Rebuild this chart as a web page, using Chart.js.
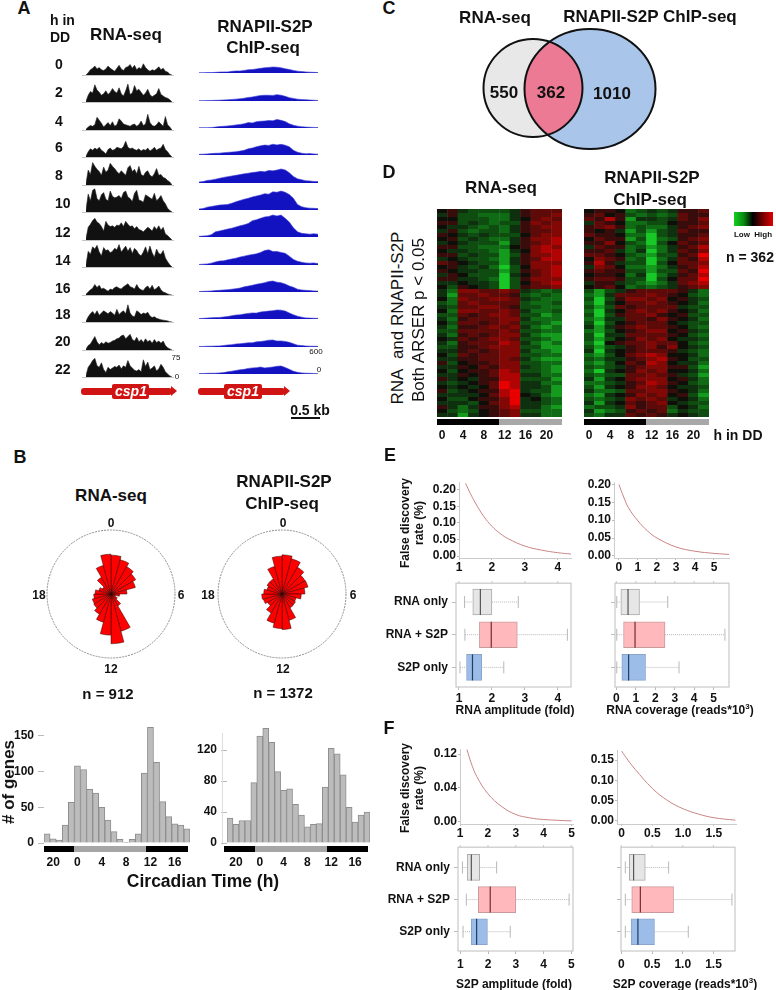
<!DOCTYPE html>
<html>
<head>
<meta charset="utf-8">
<title>csp1 RNA-seq and RNAPII-S2P ChIP-seq</title>
<script src="https://cdn.jsdelivr.net/npm/chart.js@4"></script>
<style>
  body { margin: 0; background: #fff; font-family: "Liberation Sans", Arial, sans-serif; }
  #page { position: relative; width: 776px; height: 990px; overflow: hidden; }
  canvas { position: absolute; }
  .t { position: absolute; white-space: nowrap; transform: translate(-50%, -50%); font-weight: bold; color: #111; }
  .b { position: absolute; }
</style>
</head>
<body>
<div id="page"></div>
<script>
// panel A, read counts per track
const rnaT0  = [0,6,14,18,24,16,20,14,12,16,24,18,14,10,18,26,16,12,20,22,28,18,26,14,20,16,30,20,14,10,14,12,16,22,14,18,10,8,2,0];
const rnaT2  = [2,18,28,24,46,32,26,18,22,30,20,26,36,28,24,38,22,16,30,48,20,24,44,30,34,26,18,24,34,20,14,18,22,36,20,16,12,10,6,0];
const rnaT4  = [2,8,12,10,14,34,26,18,8,14,20,12,22,10,14,30,24,16,14,12,10,14,16,10,14,24,12,16,42,20,12,10,14,22,16,10,36,14,8,0];
const rnaT6  = [2,14,22,18,24,20,26,18,14,8,20,24,18,20,26,24,22,28,42,26,22,24,20,18,22,16,20,18,24,16,20,26,18,22,24,34,20,14,6,0];
const rnaT8  = [4,40,28,60,50,42,36,26,48,34,40,58,50,44,36,30,38,32,26,46,52,36,42,30,50,28,24,34,38,26,22,30,44,26,28,20,18,12,8,0];
const rnaT10 = [6,48,30,58,62,36,30,46,52,34,30,56,42,38,40,44,36,52,56,40,36,28,50,58,32,30,26,46,42,38,34,50,30,36,44,30,22,10,4,0];
const rnaT12 = [4,34,42,52,58,48,44,36,24,50,40,36,38,34,40,38,46,36,50,42,36,38,30,36,28,26,22,28,34,30,24,36,28,38,26,34,16,12,6,0];
const rnaT14 = [6,42,34,54,48,58,40,30,52,44,46,38,42,50,46,60,40,48,56,42,52,36,50,44,34,30,40,54,36,56,38,26,48,36,34,44,24,14,6,0];
const rnaT16 = [2,8,14,18,28,20,26,16,18,14,10,16,14,20,22,18,16,22,26,30,22,20,16,28,18,14,12,20,24,16,26,14,18,24,14,8,6,3,1,0];
const rnaT18 = [2,14,22,28,20,30,18,24,30,26,22,28,24,18,34,20,26,30,22,46,24,16,14,30,26,20,24,22,26,16,12,14,10,8,6,5,4,3,1,0];
const rnaT20 = [2,12,16,26,36,22,14,20,16,22,18,20,24,26,30,32,38,40,30,36,42,28,24,34,22,28,20,30,22,26,18,28,20,24,18,24,12,6,3,0];
const rnaT22 = [4,26,34,44,50,30,26,38,20,12,26,20,24,28,26,32,22,30,26,44,30,24,18,16,20,14,46,28,40,20,24,30,16,22,34,26,14,8,3,0];
const rnaTracks = [rnaT0,rnaT2,rnaT4,rnaT6,rnaT8,rnaT10,rnaT12,rnaT14,rnaT16,rnaT18,rnaT20,rnaT22];

const chipT0  = [8,8,10,10,14,20,24,24,36,44,44,56,70,74,88,100,112,120,128,124,110,92,76,56,40,30,24,18,14,10];
const chipT2  = [8,8,10,12,14,18,22,26,34,40,48,60,76,86,104,118,124,122,120,136,124,100,72,56,40,30,28,22,16,12];
const chipT4  = [8,8,8,10,20,30,36,44,52,66,76,90,116,108,136,144,150,160,156,182,164,138,90,60,40,28,20,16,12,10];
const chipT6  = [14,18,24,30,36,40,50,56,62,70,84,100,134,150,178,196,212,206,230,216,228,210,176,100,60,40,26,30,22,18];
const chipT8  = [20,30,56,64,80,100,120,136,150,164,180,196,210,224,234,250,240,270,260,276,300,280,220,140,90,70,50,44,34,30];
const chipT10 = [20,30,60,76,90,106,110,120,144,176,204,230,250,280,300,320,350,340,390,380,406,380,330,250,120,70,50,40,36,30];
const chipT12 = [14,20,26,50,110,130,150,170,190,215,240,260,290,350,370,400,430,440,470,450,470,400,320,200,110,80,70,60,70,60];
const chipT14 = [12,18,24,40,66,84,90,110,130,146,170,190,210,224,240,270,310,325,290,290,270,250,190,120,80,60,44,40,44,30];
const chipT16 = [10,14,18,22,30,36,44,50,60,72,84,110,126,144,166,180,200,225,235,210,200,170,130,100,60,44,36,30,24,20];
const chipT18 = [10,14,20,26,30,34,44,54,70,84,90,106,120,130,126,150,160,170,178,193,190,170,130,90,60,40,24,20,16,14];
const chipT20 = [12,12,16,18,20,24,32,44,50,64,70,80,90,90,110,116,130,146,150,128,130,120,100,70,40,30,22,18,16,14];
const chipT22 = [10,12,14,16,18,24,30,46,60,76,90,100,120,130,136,150,130,140,150,166,172,140,100,60,36,24,18,14,12,8];
const chipTracks = [chipT0,chipT2,chipT4,chipT6,chipT8,chipT10,chipT12,chipT14,chipT16,chipT18,chipT20,chipT22];

const trackHours = ["0","2","4","6","8","10","12","14","16","18","20","22"];

// panel B, rose radii and histograms
const roseHours = Array.from({length: 24}, (_, i) => String(i));
const roseRna  = [117,107,95,86,76,48,26,14,22,41,116,150,124,88,70,60,58,52,48,38,30,58,89,120];
const roseChip = [118,110,93,80,81,69,58,44,47,48,82,107,104,91,66,50,58,61,55,47,52,52,86,114];
const histHours = ["19","20","21","22","23","0","1","2","3","4","5","6","7","8","9","10","11","12","13","14","15","16","17","18"];
const histRna  = [13,6,4,25,57,108,103,75,70,50,32,16,5,1,5,13,98,162,113,58,37,27,25,20];
const histChip = [32,24,29,29,78,138,148,130,92,68,70,50,36,21,24,25,72,122,115,88,46,27,36,40];
const histRnaTicks = [0,50,100,150];
const histChipTicks = [0,40,80,120];

// panel C
const vennCounts = ["550","362","1010"];

// panel D, expression level per row, low (green) to high (red)
const heatHours = ["0","2","4","6","8","10","12","14","16","18","20","22"];
const heatRna = [
[0,1,-1,-2,-2,-2,-2,-1,1,2,2,2],[-1,1,-2,-2,-3,-3,-3,-1,1,2,2,3],[0,0,-2,-2,-2,-3,-3,-1,0,2,3,2],[1,1,-2,-1,-2,-3,-2,-2,1,3,2,3],
[0,-1,-1,-2,-3,-2,-3,-1,1,2,3,3],[-1,1,-2,-3,-2,-2,-3,-1,1,2,2,3],[1,0,-1,-2,-1,-2,-2,-2,0,2,3,3],[0,1,-2,-1,-2,-3,-3,-1,1,3,3,4],
[-1,0,-1,-2,-2,-2,-4,-1,1,2,3,4],[1,1,-2,-2,-3,-3,-3,0,1,3,4,3],[0,-1,-1,-2,-2,-3,-4,-1,0,3,4,4],[1,1,-2,-1,-2,-2,-4,-2,1,3,3,4],
[-1,0,-1,-2,-2,-3,-4,-1,1,2,4,4],[2,1,0,-1,-2,-2,-4,-1,1,3,3,3],[0,1,-1,-2,-1,-3,-5,-2,0,3,3,4],[1,0,-1,-1,-2,-2,-4,-2,1,2,3,4],
[-1,1,0,-2,-2,-2,-5,-1,0,2,3,4],[1,1,-1,-1,-2,-3,-5,-2,1,3,3,3],[-1,-1,0,-1,-1,-2,-5,-2,0,2,3,4],[0,-2,1,0,-1,-2,-5,-2,1,2,2,3],
[-1,-3,3,3,2,2,3,2,-1,-2,-3,-2],[-1,-4,2,2,3,2,2,1,-2,-3,-2,-3],[0,-3,3,2,2,3,3,2,-1,-2,-3,-3],[-2,-3,2,3,2,2,2,2,-2,-3,-3,-2],
[-1,-2,2,2,3,3,2,1,-2,-2,-3,-3],[0,-3,3,3,2,2,3,2,-1,-3,-3,-2],[-2,-2,2,1,2,3,3,2,-2,-2,-4,-3],[-1,-3,1,2,2,2,3,3,-1,-3,-3,-3],
[0,-2,2,2,1,2,3,2,-2,-2,-3,-4],[-1,-3,1,1,2,3,2,3,-1,-3,-4,-3],[-2,-2,2,2,2,2,3,2,-2,-2,-3,-3],[-1,-3,1,2,1,2,3,3,-1,-3,-4,-4],
[0,-1,2,1,2,3,3,2,-2,-2,-3,-4],[-1,-3,1,2,2,2,4,3,-1,-3,-4,-3],[-2,-2,1,1,2,3,3,3,-2,-2,-4,-4],[-1,-1,1,2,1,2,3,3,-1,-3,-3,-4],
[0,-2,2,1,2,2,3,3,-2,-2,-3,-3],[-1,-1,1,1,2,2,3,2,-1,-3,-4,-4],[1,-2,0,1,1,2,3,3,-2,-2,-3,-3],[-1,-1,1,0,2,1,3,3,-1,-2,-3,-4],
[0,-2,0,1,1,2,4,3,-2,-2,-3,-4],[-1,-1,1,0,1,2,4,4,-1,-1,-3,-3],[1,-1,0,-1,1,1,4,4,-2,-2,-2,-4],[-1,-2,-1,0,1,2,5,4,-1,-1,-3,-3],
[0,-1,0,-1,0,2,5,4,-1,-1,-2,-4],[1,-2,-1,0,1,1,4,5,-1,-2,-2,-4],[-1,-1,-1,-1,0,2,4,5,0,-1,-3,-4],[0,-2,-2,0,1,1,3,5,-1,0,-2,-3],
[-1,-1,-1,-2,0,2,3,5,-1,-1,-2,-3],[1,-1,-3,-1,1,1,3,4,-1,-1,-3,-4],[0,-2,-3,-2,0,1,2,3,-2,-2,-3,-3],[-1,-1,-4,-1,0,1,2,3,-1,-1,-3,-3]
];
const heatChip = [
[0,1,1,0,-3,-2,-1,-2,-1,1,1,2],[1,2,0,1,-2,-3,-2,-3,-2,2,1,1],[2,1,4,1,-4,-1,-1,-2,-1,2,1,3],[-1,2,1,0,-3,-3,-2,-2,0,1,1,2],
[1,2,3,1,-3,-2,-3,-3,-1,1,2,3],[1,0,1,-1,-4,-2,-4,-2,-1,2,1,1],[2,1,1,0,-3,-3,-5,-2,-1,1,1,2],[0,2,1,1,-4,-2,-5,-3,-2,1,2,3],
[1,1,3,0,-2,-3,-5,-2,0,2,1,2],[-1,2,1,1,-3,-2,-4,-3,-1,1,2,4],[1,1,2,-1,-3,-1,-5,-3,-1,2,1,3],[2,2,1,0,-2,-3,-4,-2,-2,1,2,5],
[0,3,2,1,-3,-2,-5,-3,-1,2,1,4],[1,4,1,-1,-2,-2,-5,-2,0,2,2,3],[-1,3,2,0,-3,-3,-4,-3,-1,1,2,4],[1,2,1,1,-2,-2,-4,-2,-2,2,1,5],
[0,1,1,0,-3,-1,-5,-3,-1,1,2,4],[1,2,2,1,-2,-2,-5,-2,0,2,2,5],[-1,1,1,-1,-2,-3,-4,-3,-1,2,3,4],[0,1,2,0,-3,-2,-3,-2,-1,1,2,3],
[-2,-4,-2,-1,1,2,2,2,2,1,-1,-3],[-3,-4,-1,2,2,2,3,2,1,0,-2,-3],[-2,-5,-2,1,3,3,2,3,0,1,-1,-2],[-3,-5,-1,0,2,2,3,2,1,0,-1,-3],
[-2,-4,-2,2,1,2,2,2,2,-1,-2,-2],[-3,-5,-1,0,2,3,2,3,1,0,-1,-3],[-2,-5,-2,1,2,2,3,1,0,1,-2,-2],[-3,-4,-1,-1,2,2,1,3,1,0,-1,-3],
[-2,-5,-2,0,1,2,2,2,0,-1,-2,-2],[-1,-4,-1,1,2,3,2,2,1,0,-2,-3],[-3,-4,-2,0,1,2,3,3,0,1,-1,-2],[-2,-5,-1,-1,2,2,2,2,1,0,-2,-3],
[-2,-4,-2,0,1,3,2,3,0,-1,-1,-2],[-3,-5,0,1,2,2,3,2,2,0,-2,-3],[-2,-4,-2,-1,1,2,3,1,3,0,-1,-2],[-1,-5,-1,0,1,2,2,2,1,-1,-2,-3],
[-3,-4,-2,0,2,3,4,3,0,0,-1,-3],[-2,-3,-1,-1,1,2,3,4,1,0,-2,-2],[-3,-4,-2,0,2,1,4,3,0,-1,-1,-3],[-2,-3,-2,-1,1,2,3,3,1,1,-2,-4],
[-3,-5,-1,0,1,3,2,3,0,0,-1,-3],[-2,-3,-2,-2,2,2,3,2,1,-1,-2,-4],[-1,-4,-1,0,2,3,3,3,0,1,-1,-3],[-3,-3,-2,-1,1,2,4,3,1,0,-2,-3],
[-2,-4,-1,0,1,3,3,2,0,-1,-1,-2],[-1,-3,-3,-2,2,2,3,3,1,0,-1,-3],[-3,-4,-1,0,1,3,2,3,0,1,-2,-4],[-2,-3,-2,-1,3,2,3,2,-1,0,-1,-3],
[-1,-4,-1,0,2,1,2,3,0,-1,-2,-2],[-3,-2,-2,-1,3,1,2,2,-2,0,-1,-3],[-1,-4,-3,-2,1,2,1,2,-3,-1,-2,-2],[-2,-3,-1,-1,2,1,2,1,-1,0,-1,-2]
];

// panels E and F, false discovery curves
const fdrAmpX = [1.2,1.35,1.5,1.75,2,2.25,2.5,3,3.5,4,4.4];
const fdrAmpY = [0.22,0.188,0.16,0.12,0.09,0.068,0.052,0.03,0.018,0.01,0.006];
const fdrCovX = [0,0.25,0.5,1,1.5,2,3,4,5,5.8];
const fdrCovY = [0.2,0.165,0.135,0.098,0.07,0.05,0.025,0.013,0.007,0.004];
const fdrS2pAmpX = [1.25,1.4,1.6,2,2.5,3,3.5,4,5];
const fdrS2pAmpY = [0.128,0.104,0.08,0.049,0.026,0.012,0.006,0.003,0.0005];
const fdrS2pCovX = [0,0.1,0.22,0.5,0.75,1,1.25,1.5,1.85];
const fdrS2pCovY = [0.172,0.15,0.127,0.08,0.05,0.03,0.017,0.008,0.002];

// boxplots, rows are RNA only, RNA + S2P, S2P only
const boxNames = ["RNA only","RNA + S2P","S2P only"];
const ampLo = [1.17,1.18,1.03], ampQ1 = [1.42,1.62,1.23], ampMed = [1.65,1.98,1.41], ampQ3 = [2.0,2.77,1.69], ampHi = [2.8,4.29,2.36];
const covLo = [0.02,0.02,0.02], covQ1 = [0.23,0.37,0.28], covMed = [0.6,0.96,0.63], covQ3 = [1.19,2.5,1.5], covHi = [2.64,5.58,3.22];
const s2pAmpLo = [1.08,1.22,1.1], s2pAmpQ1 = [1.25,1.65,1.4], s2pAmpMed = [1.4,2.08,1.59], s2pAmpQ3 = [1.7,3.0,1.98], s2pAmpHi = [2.31,4.92,2.8];
const s2pCovLo = [0.065,0.065,0.065], s2pCovQ1 = [0.13,0.17,0.16], s2pCovMed = [0.2,0.31,0.27], s2pCovQ3 = [0.39,0.85,0.54], s2pCovHi = [0.77,1.8,1.09];

const boxFill = ["#e6e6e6","#ffb9bc","#9cbde8"];
const boxEdge = ["#aaaaaa","#c99a9c","#8aa5cc"];
const boxMid  = ["#555","#7a2a30","#1f3f66"];

const page = document.getElementById("page");
const tickFont = { family: "Liberation Sans", size: 12, weight: "bold" };
Chart.defaults.animation = false;
Chart.defaults.responsive = false;
Chart.defaults.devicePixelRatio = 1;
Chart.defaults.events = [];
Chart.defaults.font.family = "Liberation Sans";
Chart.defaults.plugins.legend.display = false;
Chart.defaults.plugins.tooltip.enabled = false;

function addChart(x, y, w, h, cfg) {
  const c = document.createElement("canvas");
  c.width = w; c.height = h;
  c.style.left = x + "px"; c.style.top = y + "px";
  page.appendChild(c);
  return new Chart(c, cfg);
}
function text(s, x, y, size, extra) {
  const d = document.createElement("div");
  d.className = "t";
  d.innerHTML = s;
  d.style.left = x + "px"; d.style.top = y + "px"; d.style.fontSize = size + "px";
  if (extra) Object.assign(d.style, extra);
  page.appendChild(d);
}
function rect(x, y, w, h, color, extra) {
  const d = document.createElement("div");
  d.className = "b";
  Object.assign(d.style, { left: x + "px", top: y + "px", width: w + "px", height: h + "px", background: color });
  if (extra) Object.assign(d.style, extra);
  page.appendChild(d);
}
const upright = { transform: "translate(-50%,-50%) rotate(-90deg)" };

// ---- A
const rnaBase  = [75,102,130,157,185,212,240,267,295,322,350,377];
const chipBase = [73,101,128,155,183,210,237,265,292,319,347,374];
const hourY    = [64,92,121,147,175,203,232,260,288,314,341,369];

function track(x, base, w, vals, max, fillc, linec) {
  addChart(x, base - 28, w, 29, {
    type: "line",
    data: { labels: vals.map((_, i) => i), datasets: [{ data: vals, fill: "origin", backgroundColor: fillc, borderColor: linec, borderWidth: 0.6, pointRadius: 0, tension: 0 }] },
    options: { maintainAspectRatio: false, layout: { padding: { bottom: 1 } },
      scales: { x: { display: false }, y: { display: false, min: 0, max: max } } }
  });
}
rnaTracks.forEach((v, i) => {
  rect(82, rnaBase[i], 92, 1, "#c4c4c4");
  track(86, rnaBase[i], 86, v, 75, "#111", "#222");
});
chipTracks.forEach((v, i) => track(199, chipBase[i], 119, v, 600, "#1212c0", "#3a3ad8"));
trackHours.forEach((h, i) => text(h, 55, hourY[i], 14, { transform: "translate(0,-50%)" }));

function gene(x, w, bx, bw, tx) {
  rect(x, 388, w - 5, 7, "#d01414", { borderRadius: "3px" });
  rect(x + w - 6, 386, 0, 0, "transparent", { borderLeft: "6px solid #d01414", borderTop: "5px solid transparent", borderBottom: "5px solid transparent" });
  rect(bx, 384, bw, 15, "#d01414", { borderRadius: "2px" });
  text("csp1", tx, 391, 14, { color: "#fff", fontStyle: "italic" });
}
gene(81, 96, 112, 37, 131);
gene(198, 92, 224, 38, 243);
rect(291, 417, 29, 2, "#111");

// ---- B
function rose(cx, cy, vals) {
  addChart(cx - 66, cy - 66, 132, 132, {
    type: "polarArea",
    data: { labels: roseHours, datasets: [{ data: vals, backgroundColor: "#ff0000", borderColor: "#2a0000", borderWidth: 0.5 }] },
    options: { layout: { padding: 2 },
      scales: { r: { min: 0, max: 193, ticks: { display: false, stepSize: 193 }, grid: { color: "#8c8c8c", lineWidth: 1 }, border: { dash: [2, 1] }, angleLines: { display: false }, pointLabels: { display: false } } } }
  });
}
rose(111, 594, roseRna);
rose(282, 594, roseChip);

function hist(px, pw, ymax, yt, vals, left, line) {
  addChart(px - left, 714, left + pw + 10, 164, {
    type: "bar",
    data: { labels: histHours, datasets: [{ data: vals, backgroundColor: "#bcbcbc", borderColor: "#8e8e8e", borderWidth: 1, barPercentage: 1, categoryPercentage: 1 }] },
    options: { maintainAspectRatio: false, layout: { padding: { top: 8, right: 10 } },
      scales: {
        x: { afterFit: s => { s.height = 35; }, grid: { display: false }, border: { display: false },
             ticks: { font: tickFont, color: "#111", autoSkip: false, maxRotation: 0, padding: 4,
                      callback(v) { const l = this.getLabelForValue(v); return Number(l) % 4 === 0 ? l : ""; } } },
        y: { min: 0, max: ymax, afterFit: s => { s.width = left; }, afterBuildTicks: s => { s.ticks = yt.map(v => ({ value: v })); },
             border: { display: false },
             grid: { drawOnChartArea: false, tickLength: 6, tickColor: "#bbb" },
             ticks: { font: tickFont, color: "#111", padding: 4 } }
      }
    }
  });
}
hist(44, 146, 165, histRnaTicks, histRna, 44);
hist(227, 143, 152, histChipTicks, histChip, 40);
rect(44, 846, 30, 6, "#000"); rect(74, 846, 72, 6, "#a6a6a6"); rect(146, 846, 42, 6, "#000");
rect(224, 846, 31, 6, "#000"); rect(255, 846, 72, 6, "#a6a6a6"); rect(327, 846, 41, 6, "#000");
rect(222, 733, 1, 110, "#ddd");

// ---- C
const vennPlugin = {
  id: "venn",
  afterDatasetsDraw(chart) {
    const { ctx, scales: { x, y } } = chart;
    const left = new Path2D(), right = new Path2D();
    const ell = (p, cx, cy, rx, ry) => p.ellipse(x.getPixelForValue(cx), y.getPixelForValue(cy), rx, ry, 0, 0, Math.PI * 2);
    ell(left, 533, 88, 49.5, 49);
    ell(right, 590, 89, 65.5, 60);
    ctx.save();
    ctx.fillStyle = "#e8e8e8"; ctx.fill(left);
    ctx.fillStyle = "#a9c6ea"; ctx.fill(right);
    ctx.save(); ctx.clip(left); ctx.fillStyle = "#ec7a95"; ctx.fill(right); ctx.restore();
    ctx.lineWidth = 2; ctx.strokeStyle = "#111"; ctx.stroke(left); ctx.stroke(right);
    ctx.restore();
  }
};
addChart(478, 24, 182, 131, {
  type: "scatter",
  data: { datasets: [{ data: [], pointRadius: 0 }] },
  options: { maintainAspectRatio: false, scales: { x: { display: false, min: 478, max: 660 }, y: { display: false, reverse: true, min: 24, max: 155 } } },
  plugins: [vennPlugin]
});
text(vennCounts[0], 504, 93, 17); text(vennCounts[1], 551, 93, 17); text(vennCounts[2], 612, 94, 17);

// ---- D
const greens = ["#0f0f0a","#0e300e","#0e4c10","#106c14","#149a1c","#18c826"];
const reds   = ["#0f0f0a","#380c0a","#5e0a08","#820806","#b00404","#e80000"];
const heatColor = v => v < 0 ? greens[-v] : reds[v];
function heat(x, rows) {
  addChart(x - 10, 209, 145, 240, {
    type: "bar",
    data: { labels: heatHours, datasets: rows.map((row, r) => ({
      data: row.map(() => [r, r + 1]), backgroundColor: row.map(heatColor),
      grouped: false, barPercentage: 1.04, categoryPercentage: 1 })) },
    options: { maintainAspectRatio: false, layout: { padding: { left: 10, right: 10 } },
      scales: {
        x: { afterFit: s => { s.height = 32; }, grid: { display: false }, border: { display: false },
             ticks: { font: tickFont, color: "#111", autoSkip: false, maxRotation: 0, padding: 3,
                      callback(v, i) { return i % 2 === 0 ? this.getLabelForValue(v) : ""; } } },
        y: { display: false, reverse: true, min: 0, max: rows.length }
      }
    }
  });
}
heat(437, heatRna);
heat(584, heatChip);
rect(437, 419, 62, 6, "#000"); rect(499, 419, 63, 6, "#a8a8a8");
rect(584, 419, 62, 6, "#000"); rect(646, 419, 63, 6, "#a8a8a8");
rect(734, 212, 39, 14, "linear-gradient(to right,#10d020,#0a8a10 25%,#000 48%,#600 70%,#e00000)");

// ---- E, F
function fdr(px, py, pw, ph, xr, yr, xt, yt, xs, ys, yl) {
  addChart(px - 34, py - 10, 34 + pw + 12, 10 + ph + 18, {
    type: "scatter",
    data: { datasets: [{ data: xs.map((v, i) => ({ x: v, y: ys[i] })), showLine: true, pointRadius: 0, borderColor: "#c98484", borderWidth: 1, tension: 0.4 }] },
    options: { maintainAspectRatio: false, layout: { padding: { top: 10, right: 12 } },
      scales: {
        x: { min: xr[0], max: xr[1], afterFit: s => { s.height = 18; }, afterBuildTicks: s => { s.ticks = xt.map(v => ({ value: v })); },
             border: { color: "#ccc" }, grid: { drawOnChartArea: false, tickLength: 2, tickColor: "#bbb" },
             ticks: { font: tickFont, color: "#111", padding: 0, autoSkip: false, maxRotation: 0 } },
        y: { min: yr[0], max: yr[1], afterFit: s => { s.width = 34; }, afterBuildTicks: s => { s.ticks = yt.map(v => ({ value: v })); },
             border: { color: "#ccc" }, grid: { drawOnChartArea: false, tickLength: 2, tickColor: "#bbb" },
             ticks: { font: tickFont, color: "#111", padding: 1, autoSkip: false, callback: yl || (v => v.toFixed(2)) } }
      }
    }
  });
}
fdr(459, 482, 112, 76, [1, 4.4], [-0.006, 0.224], [1,2,3,4], [0,0.05,0.1,0.15,0.2], fdrAmpX, fdrAmpY);
fdr(614, 482, 115, 76, [-0.26, 5.79], [-0.006, 0.207], [0,1,2,3,4,5], [0,0.05,0.1,0.15,0.2], fdrCovX, fdrCovY);
fdr(460, 749, 113, 75, [1, 5.05], [-0.005, 0.129], [1,2,3,4,5], [0,0.06,0.12], fdrS2pAmpX, fdrS2pAmpY,
    v => v === 0.06 ? "0.04" : v.toFixed(2));
fdr(617, 750, 119, 74, [-0.076, 1.86], [-0.0074, 0.1746], [0,0.5,1,1.5], [0,0.05,0.1,0.15], fdrS2pCovX, fdrS2pCovY);

const boxPlugin = {
  id: "boxes",
  afterDatasetsDraw(chart, args, o) {
    const { ctx, chartArea: a, scales: { x, y } } = chart;
    ctx.save();
    o.lo.forEach((_, i) => {
      const cy = y.getPixelForValue(i + 1);
      const lo = x.getPixelForValue(o.lo[i]), q1 = x.getPixelForValue(o.q1[i]), q3 = x.getPixelForValue(o.q3[i]), hi = x.getPixelForValue(o.hi[i]), m = x.getPixelForValue(o.med[i]);
      ctx.strokeStyle = "#b8b8b8"; ctx.lineWidth = 1;
      ctx.setLineDash([1, 1]);
      ctx.beginPath(); ctx.moveTo(lo, cy); ctx.lineTo(q1, cy); ctx.moveTo(q3, cy); ctx.lineTo(hi, cy); ctx.stroke();
      ctx.setLineDash([]);
      ctx.beginPath(); ctx.moveTo(lo, cy - 6); ctx.lineTo(lo, cy + 6); ctx.moveTo(hi, cy - 6); ctx.lineTo(hi, cy + 6); ctx.stroke();
      ctx.strokeStyle = boxMid[i]; ctx.lineWidth = 1.2;
      ctx.beginPath(); ctx.moveTo(m, cy - 13); ctx.lineTo(m, cy + 13); ctx.stroke();
    });
    ctx.strokeStyle = "#c8c8c8"; ctx.lineWidth = 1.2;
    ctx.strokeRect(a.left, a.top, a.width, a.height);
    x.ticks.forEach(t => {
      const p = x.getPixelForValue(t.value);
      ctx.beginPath(); ctx.moveTo(p, a.top); ctx.lineTo(p, a.top - 2); ctx.stroke();
    });
    ctx.restore();
  }
};
function boxes(px, py, pw, ph, xr, xt, yr, lo, q1, med, q3, hi, showNames, pad) {
  const left = 70;
  addChart(px - left, py - 10, left + pw + 12, 10 + ph + 24, {
    type: "bar",
    data: { datasets: [{ data: q1.map((v, i) => ({ x: [v, q3[i]], y: i + 1 })), backgroundColor: boxFill, borderColor: boxEdge, borderWidth: 1, borderSkipped: false, barThickness: 26 }] },
    options: { indexAxis: "y", maintainAspectRatio: false, layout: { padding: { top: 10, right: 12 } },
      plugins: { boxes: { lo, q1, med, q3, hi } },
      scales: {
        x: { type: "linear", min: xr[0], max: xr[1], afterFit: s => { s.height = 24; }, afterBuildTicks: s => { s.ticks = xt.map(v => ({ value: v })); },
             border: { display: false }, grid: { drawOnChartArea: false, tickLength: 3, tickColor: "#bbb" },
             ticks: { font: tickFont, color: "#111", padding: pad, autoSkip: false, maxRotation: 0 } },
        y: { type: "linear", offset: false, reverse: true, min: yr[0], max: yr[1], afterFit: s => { s.width = left; }, afterBuildTicks: s => { s.ticks = [1,2,3].map(v => ({ value: v })); },
             border: { display: false }, grid: { offset: false, drawOnChartArea: false, tickLength: 4, tickColor: "#bbb" },
             ticks: { font: tickFont, color: "#111", padding: 4, autoSkip: false, callback: v => showNames ? boxNames[v - 1] : "" } }
      }
    },
    plugins: [boxPlugin]
  });
}
boxes(456, 582, 115, 105, [0.91, 4.4], [1,2,3,4], [0.424, 3.6], ampLo, ampQ1, ampMed, ampQ3, ampHi, true, 1);
boxes(615, 582, 114, 105, [-0.07, 5.79], [0,1,2,3,4,5], [0.424, 3.6], covLo, covQ1, covMed, covQ3, covHi, false, 1);
boxes(458, 846, 115, 105, [0.92, 5.06], [1,2,3,4,5], [0.37, 3.6], s2pAmpLo, s2pAmpQ1, s2pAmpMed, s2pAmpQ3, s2pAmpHi, true, 3);
boxes(621, 846, 114, 105, [-0.005, 1.85], [0,0.5,1,1.5], [0.37, 3.6], s2pCovLo, s2pCovQ1, s2pCovMed, s2pCovQ3, s2pCovHi, false, 3);

// ---- texts
text("A", 24, 8, 18);
text("h in", 50, 20, 14, { transform: "translate(0,-50%)" });
text("DD", 50, 37, 14, { transform: "translate(0,-50%)" });
text("RNA-seq", 126, 35, 17);
text("RNAPII-S2P", 265, 27, 17);
text("ChIP-seq", 263, 48, 17);
text("75", 176, 357, 8, { fontWeight: "normal" });
text("0", 177, 376, 8, { fontWeight: "normal" });
text("600", 316, 351, 8, { fontWeight: "normal" });
text("0", 319, 369, 8, { fontWeight: "normal" });
text("0.5 kb", 310, 410, 14);

text("B", 20, 457, 18);
text("RNA-seq", 111, 496, 17);
text("RNAPII-S2P", 284, 482, 17);
text("ChIP-seq", 282, 504, 17);
text("0", 111, 523, 12); text("6", 181, 595, 12); text("12", 111, 669, 12); text("18", 39, 595, 12);
text("0", 283, 523, 12); text("6", 353, 595, 12); text("12", 283, 669, 12); text("18", 208, 595, 12);
text("n = 912", 108, 693, 15);
text("n = 1372", 283, 692, 15);
text("# of genes", 9, 782, 17, upright);
text("Circadian Time (h)", 203, 881, 17.5);

text("C", 389, 8, 18);
text("RNA-seq", 495, 18, 17);
text("RNAPII-S2P ChIP-seq", 650, 17, 17);

text("D", 389, 172, 18);
text("RNA-seq", 501, 188, 17);
text("RNAPII-S2P", 652, 178, 17);
text("ChIP-seq", 650, 200, 17);
text("RNA&nbsp; and RNAPII-S2P", 398, 318, 17, Object.assign({ fontWeight: "normal" }, upright));
text("Both ARSER p &lt; 0.05", 419, 320, 17, Object.assign({ fontWeight: "normal" }, upright));
text("h in DD", 738, 435, 14);
text("Low&nbsp; High", 753, 234, 8);
text("n = 362", 750, 257, 14);

text("E", 390, 455, 18);
text("False discovery", 405, 523, 12, upright);
text("rate (%)", 419, 523, 12, upright);
text("RNA amplitude (fold)", 515, 710, 12);
text("RNA coverage (reads*10<sup style='font-size:8px;line-height:0'>3</sup>)", 680, 710, 12);

text("F", 389, 728, 18);
text("False discovery", 405, 788, 12, upright);
text("rate (%)", 419, 788, 12, upright);
text("S2P amplitude (fold)", 514, 984, 12);
text("S2P coverage (reads*10<sup style='font-size:8px;line-height:0'>3</sup>)", 685, 984, 12);
</script>
</body>
</html>
